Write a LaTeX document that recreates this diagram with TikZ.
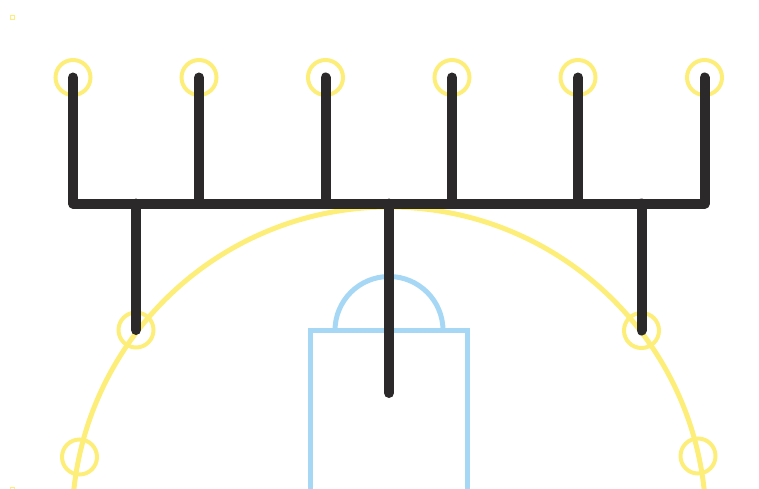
\documentclass[tikz,border=0pt]{standalone}
\definecolor{ylw}{RGB}{253,238,122}
\definecolor{blu}{RGB}{166,216,245}
\definecolor{blk}{RGB}{43,41,42}
\begin{document}
\begin{tikzpicture}[x=1pt,y=-1pt,
  ring/.style={circle,draw=ylw,line width=4pt,minimum size=35pt,inner sep=0pt},
  bar/.style={draw=blk,line width=10pt,line cap=round,line join=round},
  court/.style={draw=blu,line width=5pt},
  bigarc/.style={draw=ylw,line width=5pt},
  tiny/.style={draw=ylw,line width=0.9pt}]
\useasboundingbox (0,0) rectangle (759,489);
\begin{scope}
\clip (0,0) rectangle (759,489);
\draw[bigarc] (389,524) circle[radius=317pt];
\draw[court] (310,500) -- (310,330.5) -- (467.5,330.5) -- (467.5,500);
\draw[court] (335,330.5) arc[start angle=180,end angle=0,radius=54pt];
\draw[tiny] (10.5,15.5) rectangle (14.5,19);
\draw[tiny] (10,487.8) rectangle (14.5,493);
\end{scope}
% rings
\node[ring] (t1) at (73,77.5) {};
\node[ring] (t2) at (199,77.5) {};
\node[ring] (t3) at (325.5,77.5) {};
\node[ring] (t4) at (452,77.5) {};
\node[ring] (t5) at (578,77.5) {};
\node[ring] (t6) at (704.5,77.5) {};
\node[ring] (l1) at (136,330) {};
\node[ring] (r1) at (641.5,330.5) {};
\node[ring] (l2) at (79.5,457) {};
\node[ring] (r2) at (698,456) {};
\coordinate (bl) at (73,203.5);
\coordinate (br) at (704.5,203.5);
\coordinate (mid) at (389,203.5);
\coordinate (midend) at (389,393);
% black frame
\draw[bar] (t1.center) -- (bl) -- (br) -- (t6.center);
\draw[bar] (t2.center) -- (t2.center |- bl);
\draw[bar] (t3.center) -- (t3.center |- bl);
\draw[bar] (t4.center) -- (t4.center |- bl);
\draw[bar] (t5.center) -- (t5.center |- bl);
\draw[bar] (l1.center |- bl) -- (l1.center);
\draw[bar] (r1.center |- bl) -- (r1.center);
\draw[bar] (mid) -- (midend);
\end{tikzpicture}
\end{document}
